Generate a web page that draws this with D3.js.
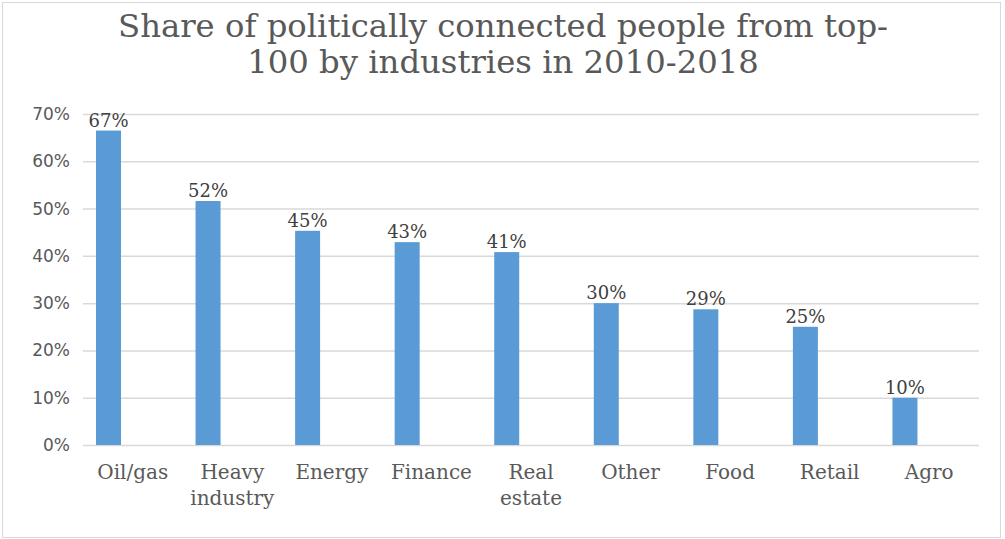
<!DOCTYPE html>
<html>
<head>
<meta charset="utf-8">
<script src="https://cdn.jsdelivr.net/npm/d3@7"></script>
<style>
body { margin: 0; background: #fff; }
</style>
</head>
<body>
<div id="chart"></div>
<script>
var titleLines = ["Share of politically connected people from top-", "100 by industries in 2010-2018"];
var categories = ["Oil/gas", "Heavy industry", "Energy", "Finance", "Real estate", "Other", "Food", "Retail", "Agro"];
var shares = [0.665, 0.516, 0.453, 0.429, 0.408, 0.300, 0.287, 0.250, 0.100];
var yTicks = [0, 0.1, 0.2, 0.3, 0.4, 0.5, 0.6, 0.7];

var width = 1005;
var height = 539;
var margin = { left: 83, right: 26, top: 114, bottom: 94 };
var textColor = "#595959";
var serif = "'DejaVu Serif', 'Liberation Serif', serif";

var svg = d3.select("#chart")
    .append("svg")
    .attr("width", width)
    .attr("height", height);

// chart frame
svg.append("rect")
    .attr("x", 2.5).attr("y", 2.5)
    .attr("width", 998).attr("height", 535)
    .attr("fill", "#fff")
    .attr("stroke", "#d9d9d9");

var xScale = d3.scaleBand()
    .domain(categories)
    .range([margin.left, width - margin.right]);

var yScale = d3.scaleLinear()
    .domain([0, 0.7])
    .range([height - margin.bottom, margin.top]);

// title, sized so the first line spans about 770px like the original
var title = svg.append("g").selectAll("text")
    .data(titleLines)
    .enter().append("text")
    .attr("x", 503)
    .attr("y", (d, i) => 37 + i * 36)
    .attr("text-anchor", "middle")
    .attr("font-family", serif)
    .attr("font-size", "30px")
    .attr("fill", textColor)
    .text(d => d);
var tw = title.node().getComputedTextLength();
title.attr("font-size", (30 * 770 / tw).toFixed(1) + "px");

// gridlines + y labels
var yAxis = svg.append("g")
    .attr("transform", `translate(${margin.left}, 0)`)
    .call(d3.axisLeft(yScale)
        .tickValues(yTicks)
        .tickFormat(d3.format(".0%"))
        .tickSize(-(width - margin.left - margin.right))
        .tickPadding(13));
yAxis.select(".domain").remove();
yAxis.selectAll("line").attr("stroke", "#d9d9d9").attr("stroke-width", 1.5);
yAxis.selectAll("text")
    .attr("font-family", "'DejaVu Sans', sans-serif")
    .attr("font-size", "17px")
    .attr("fill", textColor);

// bars (second, empty series leaves the bar left of band centre)
var barW = 25;
var barOff = 13;
svg.append("g").selectAll("rect")
    .data(categories)
    .enter().append("rect")
    .attr("x", d => xScale(d) + barOff)
    .attr("y", (d, i) => yScale(shares[i]))
    .attr("width", barW)
    .attr("height", (d, i) => yScale(0) - yScale(shares[i]))
    .attr("fill", "#5b9bd5");

// value labels
svg.append("g").selectAll("text")
    .data(categories)
    .enter().append("text")
    .attr("x", d => xScale(d) + barOff + barW / 2)
    .attr("y", (d, i) => yScale(shares[i]) - 4)
    .attr("text-anchor", "middle")
    .attr("font-family", serif)
    .attr("font-size", "18px")
    .attr("fill", "#404040")
    .text((d, i) => d3.format(".0%")(shares[i]));

// category labels
var catLabels = svg.append("g").selectAll("text")
    .data(categories)
    .enter().append("text")
    .attr("x", d => xScale(d) + xScale.bandwidth() / 2)
    .attr("y", 479)
    .attr("text-anchor", "middle")
    .attr("font-family", serif)
    .attr("font-size", "20px")
    .attr("fill", textColor);
catLabels.each(function (d) {
    var words = d.split(" ");
    for (var i = 0; i < words.length; i++)
        d3.select(this).append("tspan")
            .attr("x", xScale(d) + xScale.bandwidth() / 2)
            .attr("dy", i === 0 ? 0 : 26)
            .text(words[i]);
});
</script>
</body>
</html>
